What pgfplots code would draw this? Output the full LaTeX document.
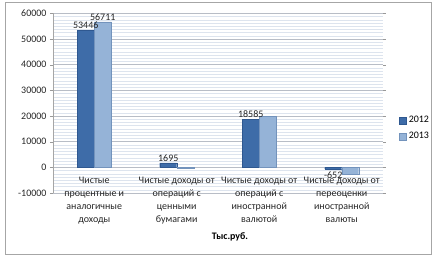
\documentclass[border=0pt]{standalone}
\usepackage{pgfplots}
\pgfplotsset{compat=1.18}
\usepackage{fontspec}
\setmainfont{Carlito}
\definecolor{cA}{HTML}{3E6CA8}
\definecolor{cAd}{HTML}{2F5890}
\definecolor{cB}{HTML}{95B3D7}
\definecolor{cBd}{HTML}{7393BC}
\definecolor{gmaj}{HTML}{B8BDC6}
\definecolor{gmin}{HTML}{DDE4EE}
\begin{document}
\begin{tikzpicture}
\useasboundingbox (-53bp,-68bp) rectangle (388bp,193bp);
\draw[gray!70, line width=0.8bp] (-48bp,-61bp) rectangle (378bp,191bp);
\begin{axis}[
  at={(0,0)}, anchor=south west,
  scale only axis, width=330bp, height=179.6bp,
  ybar=0pt, bar width=17bp,
  xmin=-0.5, xmax=3.5, ymin=-10000, ymax=60000,
  ytick={-10000,0,10000,20000,30000,40000,50000,60000},
  minor y tick num=7,
  ymajorgrids, yminorgrids,
  major grid style={gmaj, line width=0.5bp},
  minor grid style={gmin, line width=0.4bp},
  axis line style={draw=none},
  xtick={0,1,2,3},
  xticklabels={{Чистые\\процентные и\\аналогичные\\доходы},
               {Чистые доходы от\\операций с\\ценными\\бумагами},
               {Чистые доходы от\\операций с\\иностранной\\валютой},
               {Чистые доходы от\\переоценки\\иностранной\\валюты}},
  xtick style={draw=none},
  ytick style={draw=gray!80},
  tick align=outside, major tick length=3bp, minor tick length=0bp,
  scaled y ticks=false,
  /pgf/number format/set thousands separator={},
  /pgf/number format/assume math mode=true,
  y tick label style={font=\fontsize{10}{12}\selectfont, text=black!85},
  xticklabel style={font=\fontsize{10}{13}\selectfont, align=center, yshift=22bp, text=black!85},
  point meta=explicit symbolic,
  nodes near coords={\pgfplotspointmeta},
  nodes near coords style={font=\fontsize{10}{12}\selectfont, text=black!85, inner sep=1.5bp},
  coordinate style/.condition={y<0}{anchor=north, yshift=-1.5bp},
  legend style={at={(1.04,0.36)}, anchor=west, draw=none, fill=none,
    font=\fontsize{10}{12}\selectfont, row sep=4bp},
  legend cell align=left,
  legend image code/.code={\fill[#1] (0bp,-3.5bp) rectangle (7bp,3.5bp);},
]
\addplot[fill=cA, draw=cAd] coordinates {(0,53446) [53446] (1,1695) [1695] (2,18585) [18585] (3,-652) [-652]};
\addplot[fill=cB, draw=cBd] coordinates {(0,56711) [56711] (1,-350) [] (2,19900) [] (3,-2600) []};
\legend{2012,2013}
\draw[gray!70] (rel axis cs:0,0) -- (rel axis cs:0,1);
\end{axis}
\node[font=\bfseries\fontsize{10}{12}\selectfont] at (177bp,-44bp) {Тыс.руб.};
\end{tikzpicture}
\end{document}
